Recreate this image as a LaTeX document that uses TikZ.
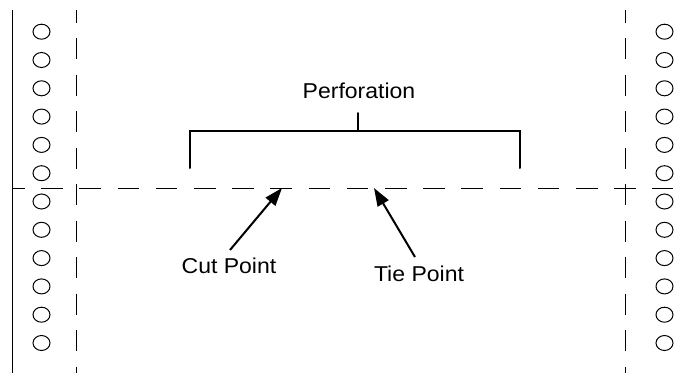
\documentclass[tikz,border=0pt]{standalone}
\usepackage{fontspec}
\setmainfont{Liberation Sans}
\usetikzlibrary{arrows.meta}
\begin{document}
\begin{tikzpicture}[x=1pt,y=-1pt,
  thinline/.style={line width=0.9pt, black},
  vdash/.style={thinline, dash pattern=on 21pt off 15.5pt, dash phase=8.5pt},
  hdash/.style={thinline, dash pattern=on 21.5pt off 16.7pt, dash phase=9pt},
  hole/.style={line width=1pt, x radius=8.5pt, y radius=7.5pt},
  bracketline/.style={line width=2pt, line cap=round},
  pointer/.style={line width=2pt, -{Triangle[length=18pt,width=12.5pt]}},
  lbl/.style={font=\fontsize{21.5pt}{24pt}\selectfont, inner sep=0pt, anchor=base}]
\useasboundingbox (0,0) rectangle (689,373);
% left margin solid line
\draw[thinline] (12.3,10) -- (12.3,373);
% tractor-feed holes
\foreach \i in {0,...,11}{
  \draw[hole] (41.5,31.7+28.3*\i) ellipse [];
  \draw[hole] (664.5,31.7+28.3*\i) ellipse [];
}
% vertical dashed fold lines
\draw[vdash] (76.7,10) -- (76.7,373);
\draw[vdash] (625,10) -- (625,373);
% horizontal perforation line
\draw[hdash] (12,188) -- (673,188);
% bracket
\coordinate (bl) at (190,168);
\coordinate (blt) at (190,130.5);
\coordinate (brt) at (520,130.5);
\coordinate (br) at (520,168);
\coordinate (bm) at (358,130.5);
\coordinate (bmt) at (358,113);
\draw[bracketline] (bl) -- (blt) -- (brt) -- (br);
\draw[bracketline] (bm) -- (bmt);
% labels
\node[lbl] (perf) at (359,98.3) {\scalebox{1.07}[1]{Perforation}};
\node[lbl] (cut) at (229,273.3) {\scalebox{1.07}[1]{Cut Point}};
\node[lbl] (tie) at (419,281.7) {\scalebox{1.07}[1]{Tie Point}};
% arrows
\coordinate (cuttail) at (230,250);
\coordinate (cuttip) at (282,188);
\coordinate (tietail) at (415,257);
\coordinate (tietip) at (374,188);
\draw[pointer] (cuttail) -- (cuttip);
\draw[pointer] (tietail) -- (tietip);
\end{tikzpicture}
\end{document}
